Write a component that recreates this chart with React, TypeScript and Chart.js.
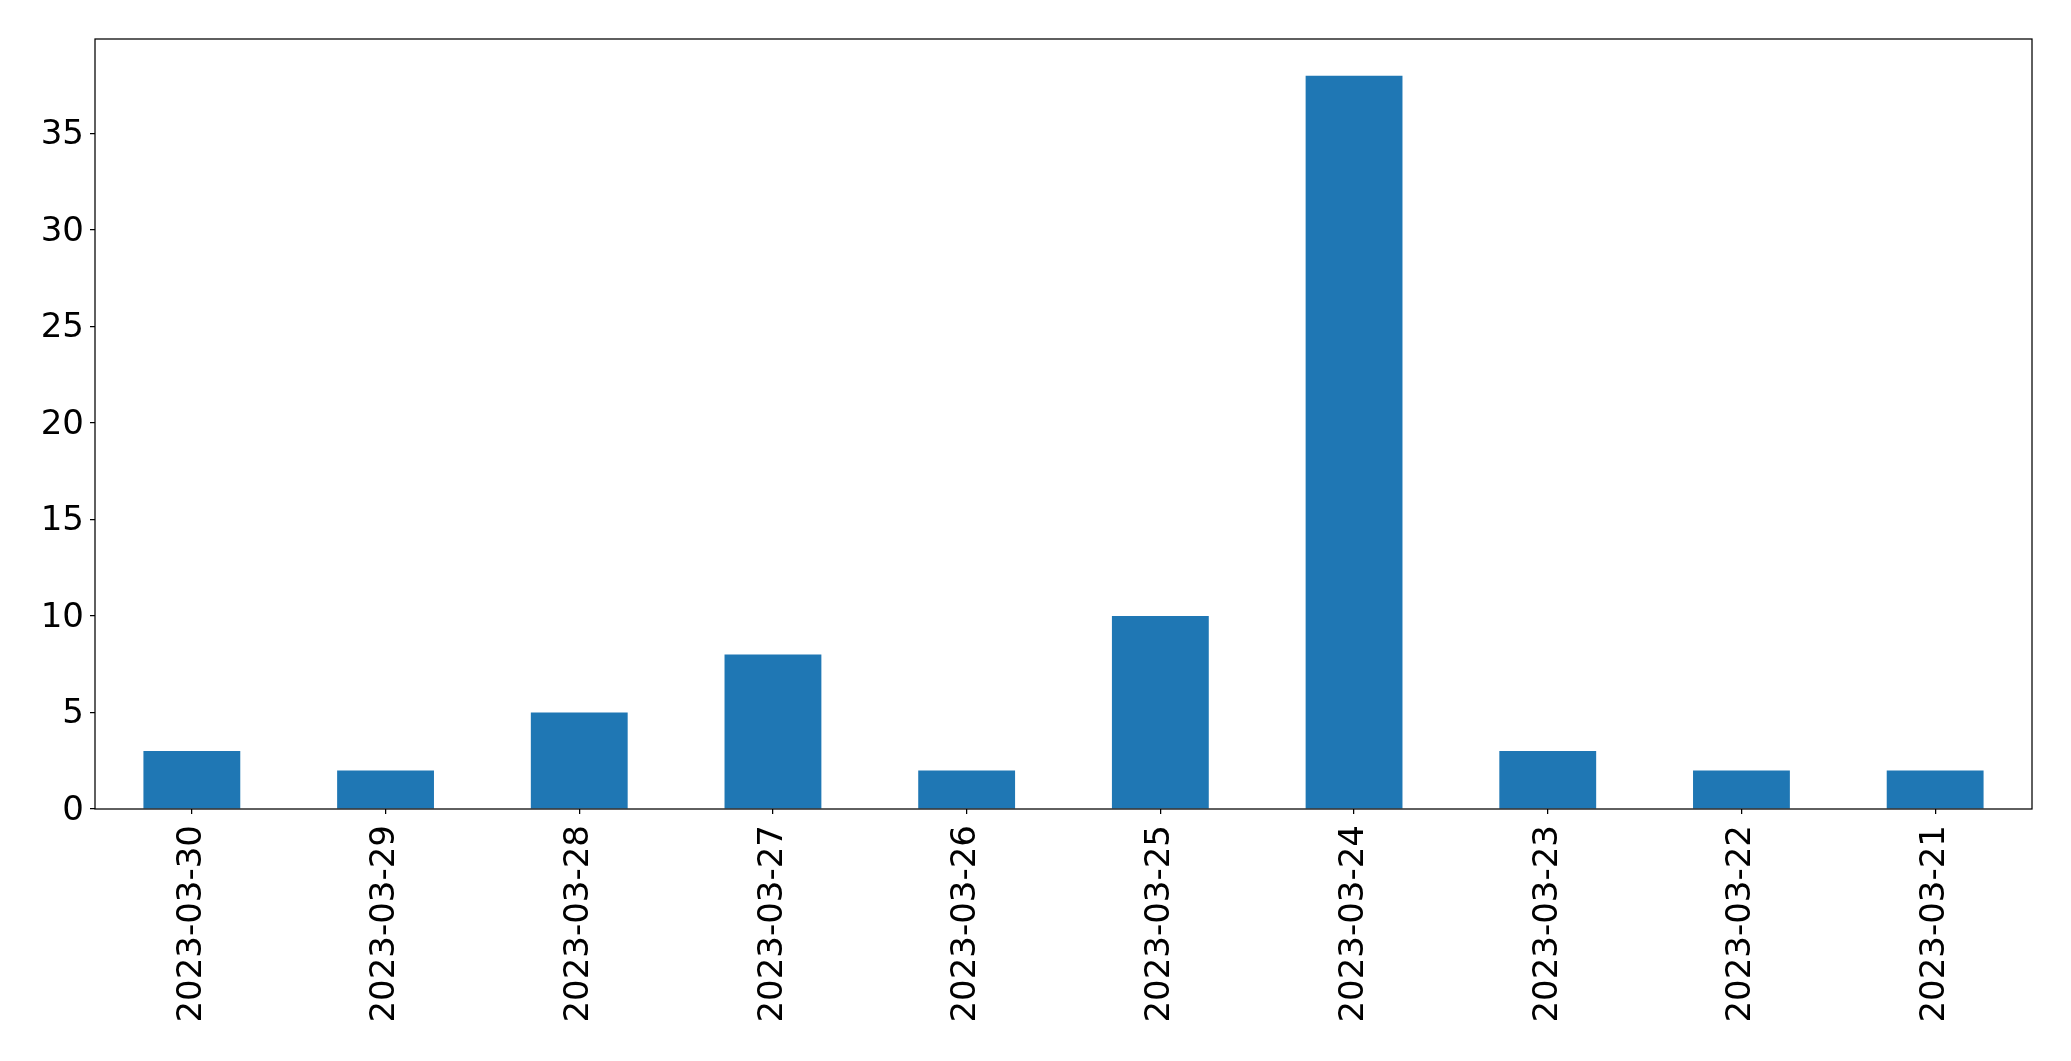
import React, { useEffect, useRef } from "react";
import { Chart, registerables } from "chart.js";

Chart.register(...registerables);

const categories: string[] = [
  "2023-03-30",
  "2023-03-29",
  "2023-03-28",
  "2023-03-27",
  "2023-03-26",
  "2023-03-25",
  "2023-03-24",
  "2023-03-23",
  "2023-03-22",
  "2023-03-21",
];

const counts: number[] = [3, 2, 5, 8, 2, 10, 38, 3, 2, 2];

const yTicks: number[] = [0, 5, 10, 15, 20, 25, 30, 35];
const yMax = 39.9;

const W = 2071;
const H = 1061;
const FONT = "'DejaVu Sans', sans-serif";
const FONT_SIZE = 34;

const frame = {
  id: "frame",
  afterDraw(chart: any) {
    const { ctx, chartArea } = chart;
    ctx.save();
    ctx.strokeStyle = "#000";
    ctx.lineWidth = 1.25;
    ctx.strokeRect(
      chartArea.left,
      chartArea.top,
      chartArea.right - chartArea.left,
      chartArea.bottom - chartArea.top
    );
    ctx.restore();
  },
};

export default function App() {
  const ref = useRef<HTMLCanvasElement | null>(null);

  useEffect(() => {
    if (!ref.current) return;
    const chart = new Chart(ref.current, {
      type: "bar",
      data: {
        labels: categories,
        datasets: [
          {
            data: counts,
            backgroundColor: "#1f77b4",
            borderWidth: 0,
            barPercentage: 0.5,
            categoryPercentage: 1.0,
          },
        ],
      },
      options: {
        animation: false,
        responsive: false,
        devicePixelRatio: 1,
        layout: { padding: { top: 39, right: 39, left: 0, bottom: 0 } },
        plugins: {
          legend: { display: false },
          tooltip: { enabled: false },
        },
        scales: {
          x: {
            type: "category",
            offset: true,
            grid: {
              display: true,
              offset: false,
              drawOnChartArea: false,
              drawTicks: true,
              tickLength: 5,
              color: "#000",
              lineWidth: 1.25,
            },
            border: { display: false },
            ticks: {
              minRotation: 90,
              maxRotation: 90,
              autoSkip: false,
              padding: 11,
              color: "#000",
              font: { family: FONT, size: FONT_SIZE },
            },
            afterFit: (s: any) => {
              s.height = 252;
            },
          },
          y: {
            min: 0,
            max: yMax,
            grid: {
              display: true,
              drawOnChartArea: false,
              drawTicks: true,
              tickLength: 5,
              color: "#000",
              lineWidth: 1.25,
            },
            border: { display: false },
            ticks: {
              padding: 6,
              labelOffset: 2,
              color: "#000",
              font: { family: FONT, size: FONT_SIZE },
            },
            afterBuildTicks: (s: any) => {
              s.ticks = yTicks.map((v) => ({ value: v }));
            },
            afterFit: (s: any) => {
              s.width = 95;
            },
          },
        },
      },
      plugins: [frame],
    });
    return () => chart.destroy();
  }, []);

  return (
    <div style={{ position: "fixed", left: 0, top: 0, width: W, height: H, background: "#fff" }}>
      <canvas ref={ref} width={W} height={H} style={{ width: W, height: H, display: "block" }} />
    </div>
  );
}
